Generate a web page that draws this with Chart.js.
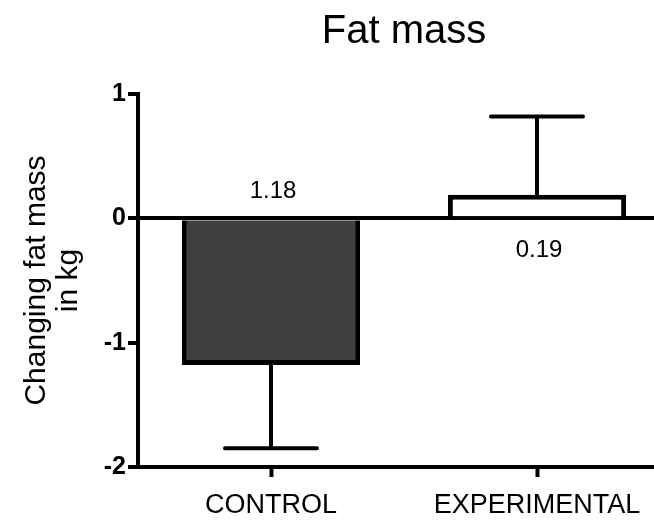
<!DOCTYPE html>
<html lang="en">
  <head>
    <meta charset="UTF-8" />
    <title>Fat mass</title>
    <script src="https://cdn.jsdelivr.net/npm/chart.js"></script>
    <style>
      html, body { margin: 0; padding: 0; background: #fff; overflow: hidden; }
      #fatChart { display: block; }
    </style>
  </head>
  <body>
    <canvas id="fatChart" width="670" height="521"></canvas>

    <script>
      const groups = ["CONTROL", "EXPERIMENTAL"];
      const meanChange = [-1.18, 0.19]; // kg
      const errorEnd = [-1.85, 0.82]; // whisker end, kg
      const valueText = ["1.18", "0.19"];
      const barColors = ["#404040", "#ffffff"];
      const yTicks = [-2, -1, 0, 1];

      const FONT = "'Liberation Sans', Arial, Helvetica, sans-serif";

      // whiskers, value labels and title drawn on top of the bars
      const extras = {
        id: "extras",
        afterDatasetsDraw(chart) {
          const { ctx, chartArea } = chart;
          const x = chart.scales.x;
          const y = chart.scales.y;
          ctx.save();
          ctx.strokeStyle = "#000";
          ctx.lineWidth = 4;
          ctx.lineCap = "round";
          groups.forEach((g, i) => {
            const cx = x.getPixelForValue(i);
            const from = y.getPixelForValue(meanChange[i]);
            const to = y.getPixelForValue(errorEnd[i]);
            ctx.beginPath();
            ctx.moveTo(cx, from);
            ctx.lineTo(cx, to);
            ctx.moveTo(cx - 46, to);
            ctx.lineTo(cx + 46, to);
            ctx.stroke();
          });

          ctx.fillStyle = "#000";
          ctx.textAlign = "center";
          ctx.textBaseline = "middle";
          ctx.font = "24px " + FONT;
          const zero = y.getPixelForValue(0);
          // label sits on the opposite side of the zero line from its bar
          groups.forEach((g, i) => {
            const cx = x.getPixelForValue(i);
            const ly = meanChange[i] < 0 ? zero - 27 : zero + 32;
            ctx.fillText(valueText[i], cx + 2, ly);
          });

          ctx.font = "40px " + FONT;
          ctx.fillText("Fat mass", (chartArea.left + chartArea.right) / 2, 32);
          ctx.restore();
        },
      };

      new Chart(document.getElementById("fatChart"), {
        type: "bar",
        data: {
          labels: groups,
          datasets: [
            {
              data: meanChange,
              backgroundColor: barColors,
              borderColor: "#000",
              borderWidth: 5,
              borderSkipped: "start",
              barPercentage: 0.67,
              categoryPercentage: 1,
            },
          ],
        },
        options: {
          responsive: false,
          animation: false,
          layout: { padding: { top: 94, left: 0, right: 0, bottom: 0 } },
          plugins: {
            legend: { display: false },
            tooltip: { enabled: false },
          },
          scales: {
            x: {
              afterFit(scale) { scale.height = 54; },
              border: { display: true, color: "#000", width: 4 },
              grid: {
                drawOnChartArea: false,
                drawTicks: true,
                tickLength: 10,
                tickColor: "#000",
                tickWidth: 4,
                offset: false,
              },
              ticks: {
                color: "#000",
                padding: 12,
                font: { family: FONT, size: 27 },
              },
            },
            y: {
              min: -2,
              max: 1,
              z: 1, // zero line over the bars
              afterFit(scale) { scale.width = 138; },
              afterBuildTicks(scale) {
                scale.ticks = yTicks.map((v) => ({ value: v }));
              },
              border: { display: true, color: "#000", width: 4 },
              grid: {
                drawTicks: true,
                tickLength: 10,
                tickColor: "#000",
                tickWidth: 4,
                color: (c) => (c.tick && c.tick.value === 0 ? "#000" : "rgba(0,0,0,0)"),
                lineWidth: 4,
              },
              ticks: {
                color: "#000",
                padding: 2,
                font: { family: FONT, size: 25, weight: "bold" },
              },
              title: {
                display: true,
                text: ["Changing fat mass", "in kg"],
                color: "#000",
                padding: { top: 21, bottom: 0 },
                font: { family: FONT, size: 30, lineHeight: 1.05 },
              },
            },
          },
        },
        plugins: [extras],
      });
    </script>
  </body>
</html>
